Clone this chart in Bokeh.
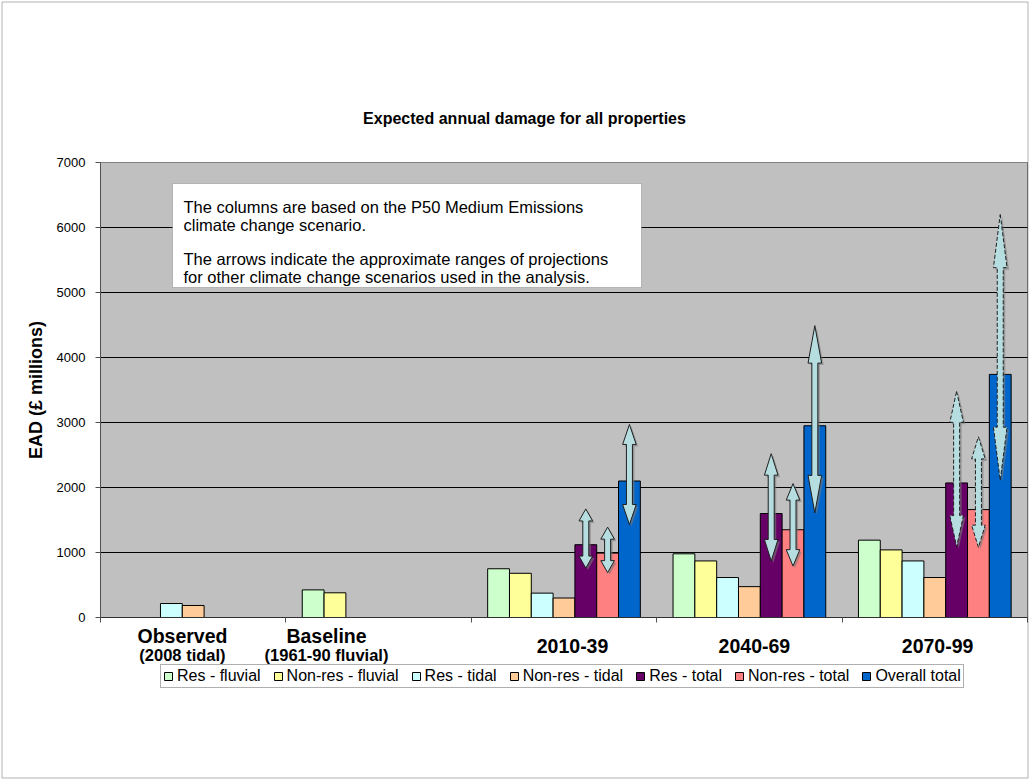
import math
from bokeh.plotting import figure
from bokeh.models import (Range1d, FixedTicker, Label, BoxAnnotation, LinearAxis,
                          Legend, LegendItem, ColumnDataSource)
from bokeh.embed import file_html
from bokeh.resources import INLINE

FONT = "Liberation Sans"

# ---------------- data ----------------
periods = ["Observed", "Baseline", "2010-39", "2040-69", "2070-99"]
period_notes = ["(2008 tidal)", "(1961-90 fluvial)", "", "", ""]

series_names = ["Res - fluvial", "Non-res - fluvial", "Res - tidal", "Non-res - tidal",
                "Res - total", "Non-res - total", "Overall total"]
N = float("nan")
res_fluvial = [N, 425, 750, 980, 1190]
nonres_fluvial = [N, 380, 680, 870, 1040]
res_tidal = [215, N, 375, 615, 870]
nonres_tidal = [185, N, 300, 475, 615]
res_total = [N, N, 1120, 1600, 2070]
nonres_total = [N, N, 990, 1350, 1660]
overall_total = [N, N, 2100, 2950, 3740]

# approximate ranges of projections for other scenarios (arrows)
range_res_low = [N, N, 760, 870, 1090]
range_res_high = [N, N, 1670, 2520, 3480]
range_nonres_low = [N, N, 690, 790, 1080]
range_nonres_high = [N, N, 1390, 2060, 2780]
range_total_low = [N, N, 1430, 1610, 2110]
range_total_high = [N, N, 2970, 4490, 6200]
arrow_dashed = [False, False, False, False, True]

y_ticks = [0, 1000, 2000, 3000, 4000, 5000, 6000, 7000]

title_text = "Expected annual damage for all properties"
y_title = "EAD (£ millions)"
note_lines = ["The columns are based on the P50 Medium Emissions",
              "climate change scenario.",
              "The arrows indicate the approximate ranges of projections",
              "for other climate change scenarios used in the analysis."]

# ---------------- style / layout ----------------
colors = ["#CCFFCC", "#FFFF99", "#CCFFFF", "#FFCC99", "#660066", "#FF8080", "#0066CC"]
series_values = [res_fluvial, nonres_fluvial, res_tidal, nonres_tidal,
                 res_total, nonres_total, overall_total]

W, H = 1030, 780
PL, PR, PT, PB = 100, 1027, 162, 617      # plot-area edges in canvas pixels
ymax = y_ticks[-1]
ncat = len(periods)
ppx = (PR - PL) / ncat        # pixels per x unit
ppy = (PB - PT) / ymax        # pixels per y unit

p = figure(width=W, height=H,
           x_range=Range1d(-PL / ppx, ncat + (W - PR) / ppx),
           y_range=Range1d(-(H - PB) / ppy, ymax + PT / ppy),
           x_axis_type=None, y_axis_type=None,
           output_backend="svg", toolbar_location=None,
           min_border=0, min_border_left=0, min_border_right=0,
           min_border_top=0, min_border_bottom=0,
           background_fill_color="white", border_fill_color="white",
           outline_line_color=None)
p.grid.visible = False

# plot area
p.quad(left=[0], right=[ncat], bottom=[0], top=[ymax],
       fill_color="#C0C0C0", line_color="#808080", line_width=1)
# gridlines
gl = y_ticks[1:-1]
p.segment(x0=[0] * len(gl), x1=[ncat] * len(gl), y0=gl, y1=gl,
          line_color="black", line_width=1)

# axes
yax = LinearAxis(fixed_location=0, bounds=(0, ymax), ticker=FixedTicker(ticks=y_ticks))
yax.major_label_text_font = FONT
yax.major_label_text_font_size = "13px"
yax.major_label_text_color = "black"
yax.major_tick_out = 5
yax.major_tick_in = 0
yax.minor_tick_line_color = None
yax.major_label_standoff = 10
yax.axis_line_color = "#505050"
yax.major_tick_line_color = "#505050"
yax.axis_label = y_title
yax.axis_label_text_font = FONT
yax.axis_label_text_font_size = "18px"
yax.axis_label_text_font_style = "bold"
yax.axis_label_text_color = "black"
yax.axis_label_standoff = 8
p.add_layout(yax, "left")

xax = LinearAxis(fixed_location=0, bounds=(0, ncat),
                 ticker=FixedTicker(ticks=[], minor_ticks=list(range(ncat + 1))))
xax.major_tick_line_color = None
xax.minor_tick_out = 5
xax.minor_tick_in = 0
xax.minor_tick_line_color = "#505050"
xax.axis_line_color = "#303030"
p.add_layout(xax, "below")

# bars
bw = 1 / 8.5
centers = [i + 0.5 for i in range(ncat)]
renderers = []
for k, (vals, col) in enumerate(zip(series_values, colors)):
    xs = [c + (k - 3) * bw for c in centers]
    src = ColumnDataSource(dict(x=xs, top=vals))
    r = p.vbar(x="x", top="top", width=bw, bottom=0, source=src,
               fill_color=col, line_color="black", line_width=1)
    renderers.append(r)

# arrows (double-headed, drawn as polygons in data space)
px_x = 1 / ppx
px_y = 1 / ppy
shaft_half = 3.0 * px_x
head_half = 6.8 * px_x

def arrow_poly(cx, lo, hi):
    L_px = (hi - lo) / px_y
    hl = max(0.2 * L_px, 12) * px_y
    xs = [cx, cx + head_half, cx + shaft_half, cx + shaft_half, cx + head_half,
          cx, cx - head_half, cx - shaft_half, cx - shaft_half, cx - head_half]
    ys = [hi, hi - hl, hi - hl, lo + hl, lo + hl,
          lo, lo + hl, lo + hl, hi - hl, hi - hl]
    return xs, ys

arrow_sets = [(4, range_res_low, range_res_high),
              (5, range_nonres_low, range_nonres_high),
              (6, range_total_low, range_total_high)]
for dashed in (False, True):
    axs, ays, sxs, sys_ = [], [], [], []
    for slot, lows, highs in arrow_sets:
        for i in range(ncat):
            if math.isnan(lows[i]) or arrow_dashed[i] != dashed:
                continue
            cx = centers[i] + (slot - 3) * bw
            xs, ys = arrow_poly(cx, lows[i], highs[i])
            axs.append(xs)
            ays.append(ys)
            sxs.append([x + 2 * px_x for x in xs])
            sys_.append([y - 2 * px_y for y in ys])
    if not axs:
        continue
    p.patches(sxs, sys_, fill_color="#7A7A7A", fill_alpha=0.6, line_color=None)
    p.patches(axs, ays, fill_color="#B6DDE0", line_color="#202020", line_width=1,
              line_dash="4 2" if dashed else "solid")

# note box (screen units: from frame bottom-left, y upward)
p.add_layout(BoxAnnotation(left=172, right=641, top=H - 183, bottom=H - 287,
                           left_units="screen", right_units="screen",
                           top_units="screen", bottom_units="screen",
                           fill_color="white", fill_alpha=1.0,
                           line_color="#505050", line_width=1))
note_base = [206, 224.5, 258, 276.5]
for txt, yb in zip(note_lines, note_base):
    p.add_layout(Label(x=183, y=H - yb, x_units="screen", y_units="screen", text=txt,
                       text_font=FONT, text_font_size="16.5px", text_color="black",
                       text_baseline="alphabetic", text_align="left"))

# title
p.add_layout(Label(x=524, y=H - 118, x_units="screen", y_units="screen", text=title_text,
                   text_font=FONT, text_font_size="16px", text_font_style="bold",
                   text_color="black", text_align="center", text_baseline="alphabetic"))

# category labels
label_shift = [-0.058, -0.281, 0.046, 0.027, 0.015]
for i, (name, note) in enumerate(zip(periods, period_notes)):
    lx = centers[i] + label_shift[i]
    if note:
        p.add_layout(Label(x=lx, y=H - 635, x_units="data", y_units="screen", text=name,
                           text_font=FONT, text_font_size="19.5px", text_font_style="bold",
                           text_color="black", text_align="center", text_baseline="alphabetic"))
        p.add_layout(Label(x=lx, y=H - 654, x_units="data", y_units="screen", text=note,
                           text_font=FONT, text_font_size="16.5px", text_font_style="bold",
                           text_color="black", text_align="center", text_baseline="alphabetic"))
    else:
        p.add_layout(Label(x=lx, y=H - 645, x_units="data", y_units="screen", text=name,
                           text_font=FONT, text_font_size="19.5px", text_font_style="bold",
                           text_color="black", text_align="center", text_baseline="alphabetic"))

# legend
legend = Legend(items=[LegendItem(label=n, renderers=[r]) for n, r in zip(series_names, renderers)],
                orientation="horizontal", location=(160, H - 688),
                glyph_width=10, glyph_height=10, label_standoff=4, spacing=12,
                padding=2, margin=0, label_height=16,
                label_text_font=FONT, label_text_font_size="16px", label_text_color="black",
                border_line_color="#606060", border_line_width=1,
                background_fill_color="white", background_fill_alpha=1.0)
p.add_layout(legend, "center")

# outer chart border
p.add_layout(BoxAnnotation(left=1.5, right=W - 2.5, top=H - 1.5, bottom=2.5,
                           left_units="screen", right_units="screen",
                           top_units="screen", bottom_units="screen",
                           fill_color=None, fill_alpha=0,
                           line_color="black", line_width=1))

open("out.html", "w").write(file_html(p, INLINE))
